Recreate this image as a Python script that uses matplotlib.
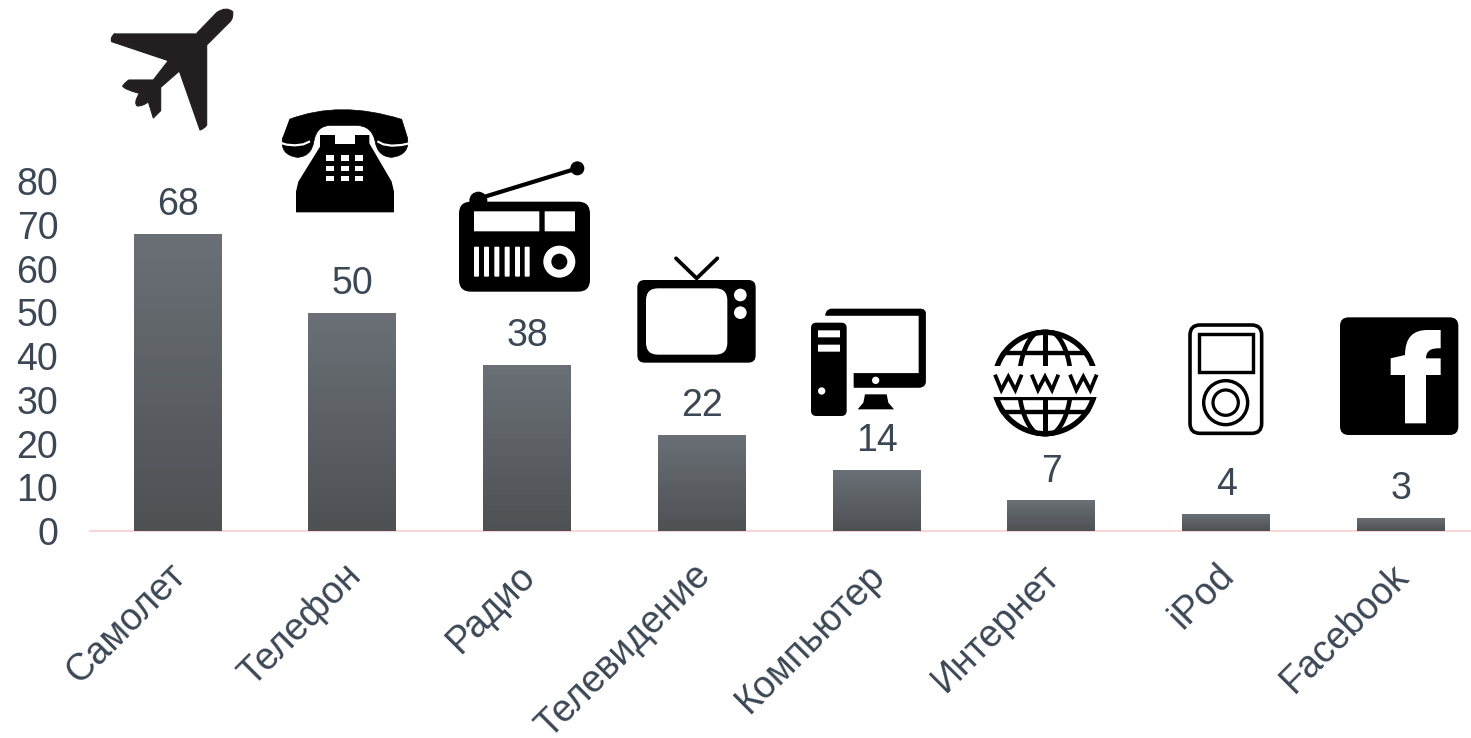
import numpy as np
import matplotlib
matplotlib.use('Agg')
import matplotlib.pyplot as plt
from matplotlib.colors import LinearSegmentedColormap
from matplotlib.patches import Circle, FancyBboxPatch, Polygon, Rectangle, PathPatch
from matplotlib.path import Path
from matplotlib.transforms import ScaledTranslation

# data
categories = ['Самолет', 'Телефон', 'Радио', 'Телевидение', 'Компьютер', 'Интернет', 'iPod', 'Facebook']
values = [68, 50, 38, 22, 14, 7, 4, 3]
y_ticks = [0, 10, 20, 30, 40, 50, 60, 70, 80]

plt.rcParams['font.family'] = ['Liberation Sans', 'DejaVu Sans']
TEXT = '#3b4754'
W, H = 1471, 738
PX = 0.72  # 1 px in points at dpi 100

fig = plt.figure(figsize=(W / 100, H / 100), dpi=100)

# main axes, right end runs off the figure like the original
left, right, bottom, top = 90.2, 1488.2, 531.0, 181.4
ax = fig.add_axes([left / W, 1 - bottom / H, (right - left) / W, (bottom - top) / H])

bars = ax.bar(range(len(values)), values, width=0.503, color='#5c6065')
cmap = LinearSegmentedColormap.from_list('bar', ['#6a7076', '#4e5154'])
grad = np.linspace(0, 1, 256).reshape(-1, 1)
for b in bars:
    im = ax.imshow(grad, cmap=cmap, aspect='auto', zorder=3,
                   extent=[b.get_x(), b.get_x() + b.get_width(), 0, b.get_height()])
    im.set_clip_path(b)
ax.bar_label(bars, padding=7.8, fontsize=27, color=TEXT)

ax.set_xlim(-0.5, 7.5)
ax.set_ylim(0, 80)
ax.set_yticks(y_ticks)
ax.set_xticks(range(len(categories)))
ax.set_xticklabels(categories, rotation=45, ha='right', rotation_mode='anchor')
ax.tick_params(axis='y', length=0, pad=23, labelsize=27, labelcolor=TEXT)
ax.tick_params(axis='x', length=0, pad=19, labelsize=27, labelcolor=TEXT)
shift = ScaledTranslation(-10 / 100, 0, fig.dpi_scale_trans)
for lab in ax.get_xticklabels():
    lab.set_transform(lab.get_transform() + shift)
for s in ['top', 'left', 'right']:
    ax.spines[s].set_visible(False)
ax.spines['bottom'].set_color('#fbd6d6')
ax.spines['bottom'].set_linewidth(1.5)
ax.patch.set_alpha(0)

# overlay in pixel coordinates for the icons
ov = fig.add_axes([0, 0, 1, 1])
ov.set_xlim(0, W)
ov.set_ylim(H, 0)
ov.axis('off')


def zp(x0, y0, pts):
    return [(x0 + x / 3, y0 + y / 3) for x, y in pts]


def poly(x0, y0, pts, color='black', smooth=0):
    ov.add_patch(Polygon(zp(x0, y0, pts), closed=True, fc=color, ec=color, lw=smooth, joinstyle='round'))


def curve(x0, y0, start, segs, color='black', lw=0.5):
    # segs: 2 points = quadratic curve, 1 point = straight line
    verts = [start]
    codes = [Path.MOVETO]
    for s in segs:
        verts += s
        codes += [Path.CURVE3, Path.CURVE3] if len(s) == 2 else [Path.LINETO]
    ov.add_patch(PathPatch(Path(zp(x0, y0, verts), codes), fc=color, ec=color, lw=lw, joinstyle='round'))


def rrect(x0, y0, x1, y1, ox, oy, r, fc='black', ec='none', lw=0):
    ov.add_patch(FancyBboxPatch((ox + x0 / 3, oy + y0 / 3), (x1 - x0) / 3, (y1 - y0) / 3,
                                boxstyle='round,pad=0,rounding_size=%g' % (r / 3), fc=fc, ec=ec, lw=lw))


def circ(x, y, r, ox, oy, fc='black', ec='none', lw=0):
    ov.add_patch(Circle((ox + x / 3, oy + y / 3), r / 3, fc=fc, ec=ec, lw=lw))


def line(ox, oy, pts, lw, color='black', cap='round'):
    p = zp(ox, oy, pts)
    ov.plot([a for a, _ in p], [b for _, b in p], color=color, lw=lw * PX,
            solid_capstyle=cap, solid_joinstyle='round')


# airplane
curve(90, 0, (320, 100), [
    [(380, 38)], [(408, 18), (428, 35)], [(430, 55), (420, 65)], [(350, 135)], [(350, 375)],
    [(345, 385), (330, 390)], [(268, 213)], [(212, 262)], [(212, 332)], [(190, 354)], [(175, 305)],
    [(160, 318), (142, 318)], [(130, 310), (148, 280)], [(102, 268), (98, 258)], [(112, 240), (118, 240)],
    [(190, 240)], [(235, 182)], [(65, 125)], [(60, 112), (75, 100)]], color='#231f20', lw=0.8)

# telephone
poly(90, 0, [(690, 405), (735, 405), (735, 432), (795, 432), (795, 405), (838, 405), (838, 430), (905, 545),
             (912, 575), (912, 637), (618, 637), (618, 575), (625, 545), (690, 440)])
curve(90, 0, (598, 358), [
    [(750, 300), (935, 358)], [(952, 412)], [(962, 465), (905, 472)], [(862, 470), (855, 422)],
    [(845, 378), (800, 376)], [(720, 376)], [(680, 378), (672, 422)], [(665, 470), (622, 472)],
    [(568, 465), (578, 412)]])
line(90, 0, [(570, 428), (590, 434), (615, 436), (640, 433), (660, 424)], 2.2, color='white', cap='butt')
line(90, 0, [(958, 430), (935, 435), (905, 437), (880, 433), (862, 424)], 2.2, color='white', cap='butt')
for kx in [708, 752, 795]:
    for ky in [465, 497, 527]:
        ov.add_patch(Rectangle((90 + kx / 3, ky / 3), 25 / 3, 17 / 3, fc='white', ec='none'))

# radio
rrect(1107, 605, 1500, 875, 90, 0, 36)
circ(1165, 602, 27, 90, 0)
line(90, 0, [(1165, 596), (1462, 505)], 4.2)
circ(1462, 505, 21, 90, 0)
rrect(1152, 634, 1348, 694, 90, 0, 1, fc='white')
rrect(1364, 634, 1455, 694, 90, 0, 1, fc='white')
for gx in [1152, 1182, 1213, 1244, 1275, 1304]:
    rrect(gx, 740, gx + 15, 830, 90, 0, 3, fc='white')
circ(1408, 785, 48, 90, 0, fc='white')
circ(1408, 785, 24, 90, 0)

# tv
line(620, 240, [(168, 55), (230, 115), (292, 55)], 3.8)
rrect(52, 120, 407, 368, 620, 240, 22)
rrect(78, 145, 322, 344, 620, 240, 36, fc='white')
circ(361, 165, 19, 620, 240, fc='white')
circ(361, 218, 19, 620, 240, fc='white')

# computer
rrect(573, 248, 680, 528, 620, 240, 16)
rrect(594, 271, 660, 292, 620, 240, 1, fc='white')
rrect(594, 314, 660, 335, 620, 240, 1, fc='white')
circ(605, 453, 11, 620, 240, fc='white')
curve(620, 240, (632, 207), [
    [(900, 207)], [(917, 207), (917, 222)], [(917, 422)], [(917, 442), (897, 442)], [(702, 442)], [(702, 400)],
    [(897, 400)], [(897, 226)], [(617, 226)], [(617, 212), (632, 207)]])
circ(767, 421, 11, 620, 240, fc='white')
poly(620, 240, [(735, 463), (800, 463), (805, 488), (822, 508), (713, 508), (730, 488)])

# globe
gx, gy, gr = 195, 249, 160
clip = Circle((980 + gx / 3, 300 + gy / 3), gr / 3, transform=ov.transData)
circ(gx, gy, gr - 8, 980, 300, fc='white', ec='black', lw=16 / 3 * PX)
t = np.radians(np.arange(0, 361, 5))
for hw in [0, 78]:
    xs = gx + hw * np.cos(t)
    ys = gy + gr * np.sin(t)
    p = zp(980, 300, list(zip(xs, ys)))
    l, = ov.plot([a for a, _ in p], [b for _, b in p], color='black', lw=4.6 * PX)
    l.set_clip_path(clip)
for ly in [160, 295, 335]:
    l, = ov.plot([980, 1140], [300 + ly / 3] * 2, color='black', lw=4.4 * PX, solid_capstyle='butt')
    l.set_clip_path(clip)
ov.add_patch(Rectangle((980, 300 + 197 / 3), 160, 93 / 3, fc='white', ec='none', zorder=3))
for wx in [85, 195, 310]:
    wp = zp(980, 300, [(wx - 40, 224), (wx - 21, 270), (wx, 230), (wx + 21, 270), (wx + 40, 224)])
    ov.plot([a for a, _ in wp], [b for _, b in wp], color='black', lw=3.8 * PX,
            solid_joinstyle='miter', solid_capstyle='butt', zorder=4)

# ipod
rrect(630, 75, 845, 400, 980, 300, 30, fc='white', ec='black', lw=3.6 * PX)
ov.add_patch(Rectangle((980 + 658 / 3, 300 + 103 / 3), 160 / 3, 114 / 3, fc='white', ec='black', lw=3.4 * PX))
circ(737, 308, 66, 980, 300, fc='white', ec='black', lw=3.4 * PX)
circ(737, 308, 38, 980, 300, fc='white', ec='black', lw=3.2 * PX)

# facebook
rrect(1080, 52, 1435, 405, 980, 300, 26)
curve(980, 300, (1275, 370), [
    [(1338, 370)], [(1338, 225)], [(1382, 225)], [(1382, 175)], [(1338, 175)], [(1338, 142), (1382, 145)],
    [(1382, 90)], [(1345, 90)], [(1275, 88), (1275, 165)], [(1232, 175)], [(1232, 225)], [(1275, 225)]],
    color='white', lw=0)

fig.savefig('out.png', dpi=100)
